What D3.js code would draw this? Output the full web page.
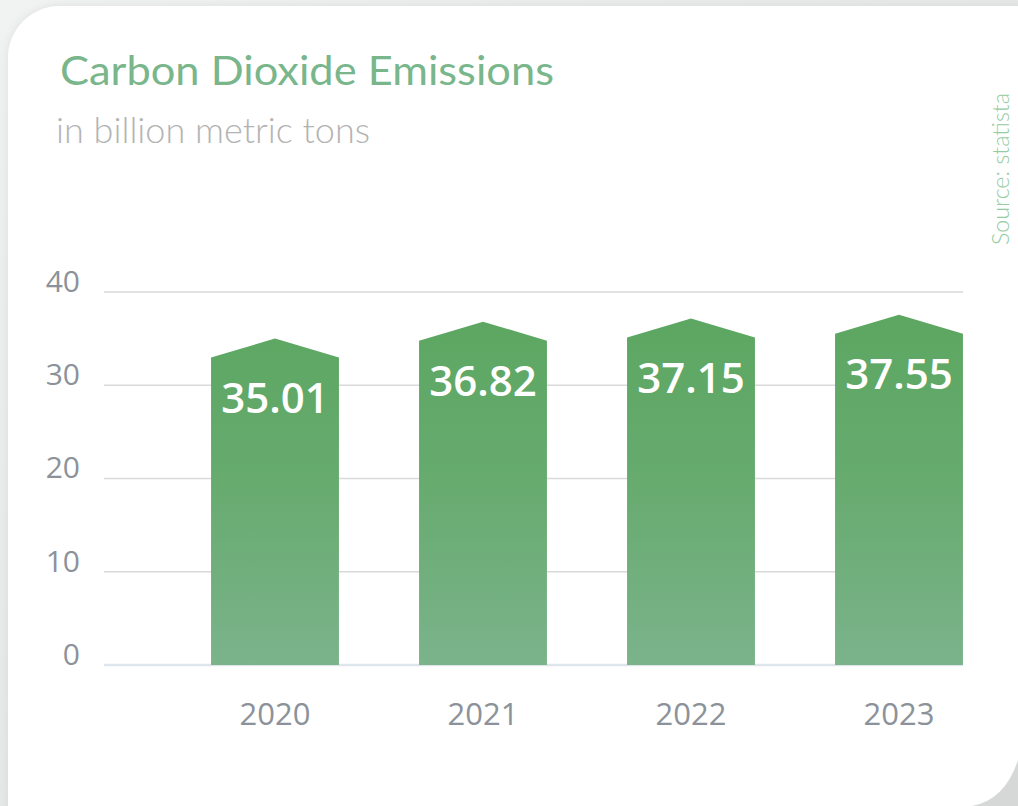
<!DOCTYPE html>
<html>
<head>
<meta charset="utf-8">
<script src="https://cdn.jsdelivr.net/npm/d3@7"></script>
<style>
  html, body { margin: 0; padding: 0; background: #eceded; }
  svg { display: block; }
</style>
</head>
<body>
<svg id="chart" width="1018" height="806"></svg>
<script>
// ---- data ----
const years = ["2020", "2021", "2022", "2023"];
const emissions = [35.01, 36.82, 37.15, 37.55];
const valueLabels = ["35.01", "36.82", "37.15", "37.55"];
const yTicks = [0, 10, 20, 30, 40];
const titleText = "Carbon Dioxide Emissions";
const subtitleText = "in billion metric tons";
const sourceText = "Source: statista";

const svg = d3.select("#chart");
const defs = svg.append("defs");

// background
const bgGrad = defs.append("linearGradient").attr("id", "bg").attr("x1", 0).attr("y1", 0).attr("x2", 1).attr("y2", 1);
bgGrad.append("stop").attr("offset", "0%").attr("stop-color", "#f1f2f2");
bgGrad.append("stop").attr("offset", "100%").attr("stop-color", "#dcdddd");
svg.append("rect").attr("width", 1018).attr("height", 806).attr("fill", "url(#bg)");

const shadow = defs.append("filter").attr("id", "sh").attr("x", -0.1).attr("y", -0.1).attr("width", 1.2).attr("height", 1.2);
shadow.append("feDropShadow").attr("dx", 0).attr("dy", 0).attr("stdDeviation", 4).attr("flood-color", "#000").attr("flood-opacity", 0.08);

// card
svg.append("rect").attr("x", 8).attr("y", 6).attr("width", 1060).attr("height", 850)
  .attr("rx", 52).attr("ry", 52).attr("fill", "#ffffff").attr("filter", "url(#sh)");
svg.append("path").attr("d", "M1018,760 L1018,806 L972,806 Q1005,800 1018,760 Z").attr("fill", "#d6d7d7");

// bar gradient
const barGrad = defs.append("linearGradient").attr("id", "barGrad")
  .attr("gradientUnits", "userSpaceOnUse").attr("x1", 0).attr("y1", 300).attr("x2", 0).attr("y2", 665);
barGrad.append("stop").attr("offset", "0%").attr("stop-color", "#5ba660");
barGrad.append("stop").attr("offset", "50%").attr("stop-color", "#67ab6f");
barGrad.append("stop").attr("offset", "100%").attr("stop-color", "#7bb38b");

// scales
const x = d3.scaleBand().domain(years).range([171, 1003]).paddingInner(0.385).paddingOuter(0.1925);
const y = d3.scaleLinear().domain([0, 40]).range([665, 292]);

// title
svg.append("text").attr("x", 60).attr("y", 85).text(titleText)
  .attr("font-family", "Lato").attr("font-weight", 400).attr("font-size", 41)
  .attr("fill", "#79b68b").attr("textLength", 494).attr("lengthAdjust", "spacingAndGlyphs");
svg.append("text").attr("x", 56).attr("y", 143).text(subtitleText)
  .attr("font-family", "Lato").attr("font-weight", 300).attr("font-size", 36)
  .attr("fill", "#b3b3b3").attr("textLength", 314).attr("lengthAdjust", "spacingAndGlyphs");

// source
svg.append("text").attr("transform", "translate(1009,245) rotate(-90)").text(sourceText)
  .attr("font-family", "Lato").attr("font-weight", 300).attr("font-size", 24)
  .attr("fill", "#94cba2").attr("textLength", 152).attr("lengthAdjust", "spacingAndGlyphs");

// gridlines + y axis
const yAxis = d3.axisLeft(y).tickValues(yTicks).tickSize(0).tickPadding(0);
const gAxis = svg.append("g").attr("transform", "translate(80,0)").call(yAxis);
gAxis.select(".domain").remove();
gAxis.selectAll("text").attr("font-family", "Open Sans").attr("font-size", 30)
  .attr("fill", "#8b929a").attr("dy", "-0.02em").attr("x", 0);

svg.append("g").selectAll("line").data(yTicks).join("line")
  .attr("x1", 104).attr("x2", 963)
  .attr("y1", d => y(d)).attr("y2", d => y(d))
  .attr("stroke", d => d === 0 ? "#dfe5ec" : "#d9d9d9")
  .attr("stroke-width", d => d === 0 ? 2.5 : 1.5);

// bars (house shape: peak = value)
const drop = 19;
svg.append("g").selectAll("path").data(years).join("path")
  .attr("d", (yr, i) => {
    const x0 = x(yr), x1 = x0 + x.bandwidth(), xm = x0 + x.bandwidth() / 2;
    const top = y(emissions[i]);
    return `M${x0},${y(0)} L${x0},${top + drop} L${xm},${top} L${x1},${top + drop} L${x1},${y(0)} Z`;
  })
  .attr("fill", "url(#barGrad)");

// value labels
svg.append("g").selectAll("text").data(years).join("text")
  .attr("x", yr => x(yr) + x.bandwidth() / 2)
  .attr("y", (yr, i) => y(emissions[i]) + 74)
  .attr("text-anchor", "middle")
  .attr("font-family", "Open Sans").attr("font-weight", 600).attr("font-size", 42)
  .attr("fill", "#ffffff")
  .text((yr, i) => valueLabels[i]);

// x axis labels
const xAxis = d3.axisBottom(x).tickSize(0).tickPadding(0);
const gx = svg.append("g").attr("transform", "translate(0,725)").call(xAxis);
gx.select(".domain").remove();
gx.selectAll("text").attr("font-family", "Open Sans").attr("font-size", 31)
  .attr("fill", "#8b929a").attr("dy", 0);
</script>
</body>
</html>
